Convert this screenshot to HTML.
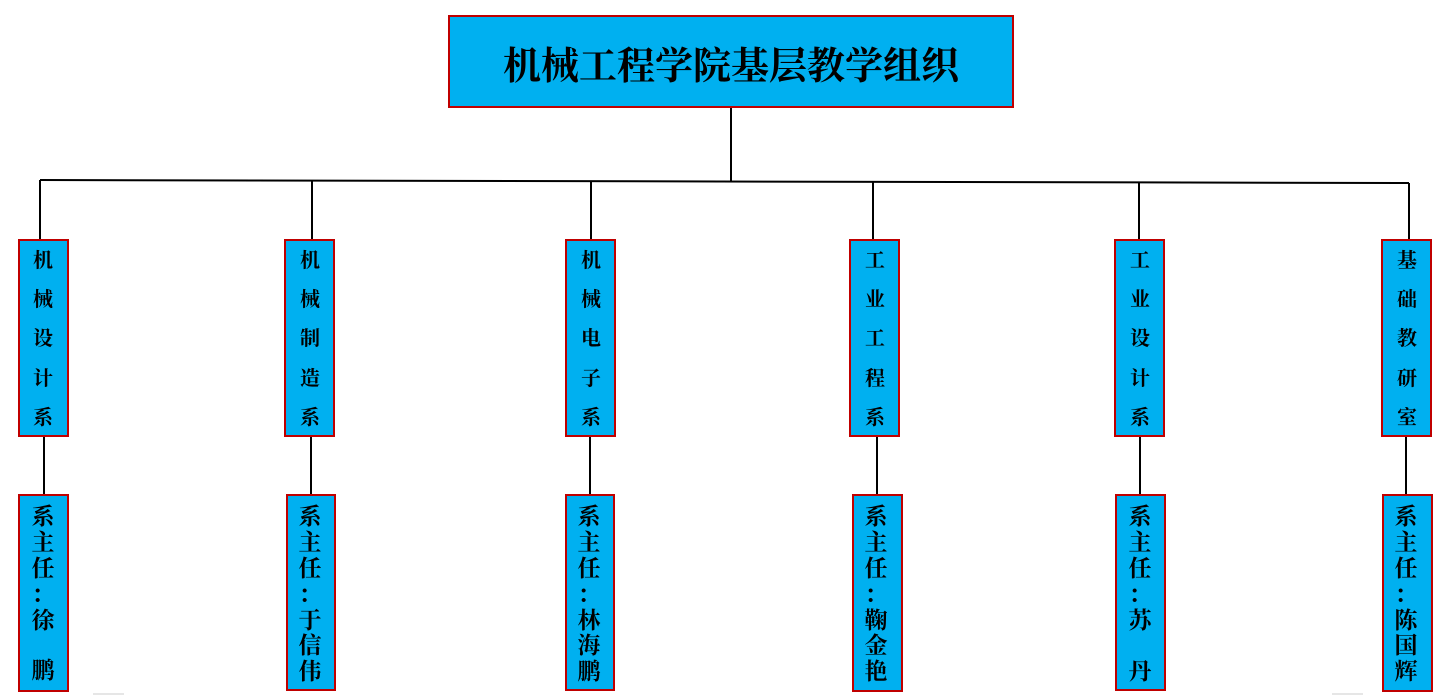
<!DOCTYPE html>
<html><head><meta charset="utf-8"><style>
html,body{margin:0;padding:0;background:#fff;width:1451px;height:696px;overflow:hidden}
svg text{font-family:"Liberation Serif","Noto Serif CJK SC",serif;font-weight:bold;fill:#000}
</style></head><body>
<svg width="1451" height="696" viewBox="0 0 1451 696" xmlns="http://www.w3.org/2000/svg">
<g stroke="#000" stroke-width="2" fill="none">
<line x1="731" y1="107" x2="731" y2="181"/>
<line x1="40" y1="180" x2="1409" y2="183"/>
<line x1="40" y1="180" x2="40" y2="240"/>
<line x1="312" y1="181" x2="312" y2="240"/>
<line x1="591" y1="181" x2="591" y2="240"/>
<line x1="873" y1="182" x2="873" y2="240"/>
<line x1="1139" y1="182" x2="1139" y2="240"/>
<line x1="1409" y1="183" x2="1409" y2="240"/>
<line x1="44" y1="436" x2="44" y2="494"/>
<line x1="311" y1="436" x2="311" y2="494"/>
<line x1="590" y1="436" x2="590" y2="494"/>
<line x1="877" y1="436" x2="877" y2="494"/>
<line x1="1140" y1="436" x2="1140" y2="494"/>
<line x1="1406" y1="436" x2="1406" y2="494"/>
</g>
<g fill="#00b0f0" stroke="#c00000" stroke-width="2">
<rect x="449" y="16" width="564" height="91"/>
<rect x="19" y="240" width="49" height="196"/>
<rect x="285" y="240" width="49" height="196"/>
<rect x="566" y="240" width="49" height="196"/>
<rect x="850" y="240" width="49" height="196"/>
<rect x="1115" y="240" width="49" height="196"/>
<rect x="1382" y="240" width="49" height="196"/>
<rect x="19" y="495" width="49" height="196"/>
<rect x="287" y="495" width="48" height="195"/>
<rect x="566" y="495" width="48" height="195"/>
<rect x="853" y="495" width="49" height="196"/>
<rect x="1116" y="495" width="49" height="195"/>
<rect x="1383" y="495" width="49" height="196"/>
</g>
<text x="731" y="79" font-size="38" text-anchor="middle" textLength="456" lengthAdjust="spacingAndGlyphs">机械工程学院基层教学组织</text>
<g font-size="20" text-anchor="middle">
<text x="43" y="267">机</text><text x="43" y="306">械</text><text x="43" y="345">设</text><text x="43" y="385">计</text><text x="43" y="424">系</text>
<text x="310" y="267">机</text><text x="310" y="306">械</text><text x="310" y="345">制</text><text x="310" y="385">造</text><text x="310" y="424">系</text>
<text x="591" y="267">机</text><text x="591" y="306">械</text><text x="591" y="345">电</text><text x="591" y="385">子</text><text x="591" y="424">系</text>
<text x="875" y="267">工</text><text x="875" y="306">业</text><text x="875" y="345">工</text><text x="875" y="385">程</text><text x="875" y="424">系</text>
<text x="1140" y="267">工</text><text x="1140" y="306">业</text><text x="1140" y="345">设</text><text x="1140" y="385">计</text><text x="1140" y="424">系</text>
<text x="1407" y="267">基</text><text x="1407" y="306">础</text><text x="1407" y="345">教</text><text x="1407" y="385">研</text><text x="1407" y="424">室</text>
</g>
<g font-size="23" text-anchor="middle">
<text x="43" y="524">系</text><text x="43" y="550">主</text><text x="43" y="576">任</text><text x="43" y="602">：</text><text x="43" y="628">徐</text><text x="43" y="678">鹏</text>
<text x="310" y="524">系</text><text x="310" y="550">主</text><text x="310" y="576">任</text><text x="310" y="602">：</text><text x="310" y="628">于</text><text x="310" y="653">信</text><text x="310" y="679">伟</text>
<text x="589" y="524">系</text><text x="589" y="550">主</text><text x="589" y="576">任</text><text x="589" y="602">：</text><text x="589" y="628">林</text><text x="589" y="653">海</text><text x="589" y="679">鹏</text>
<text x="876" y="524">系</text><text x="876" y="550">主</text><text x="876" y="576">任</text><text x="876" y="602">：</text><text x="876" y="628">鞠</text><text x="876" y="653">金</text><text x="876" y="679">艳</text>
<text x="1140" y="524">系</text><text x="1140" y="550">主</text><text x="1140" y="576">任</text><text x="1140" y="602">：</text><text x="1140" y="628">苏</text><text x="1140" y="679">丹</text>
<text x="1406" y="524">系</text><text x="1406" y="550">主</text><text x="1406" y="576">任</text><text x="1406" y="602">：</text><text x="1406" y="628">陈</text><text x="1406" y="653">国</text><text x="1406" y="679">辉</text>
</g>
<line x1="93" y1="694" x2="124" y2="694" stroke="#ccc" stroke-width="1"/>
<line x1="1332" y1="694" x2="1363" y2="694" stroke="#ccc" stroke-width="1"/>
</svg>
</body></html>
